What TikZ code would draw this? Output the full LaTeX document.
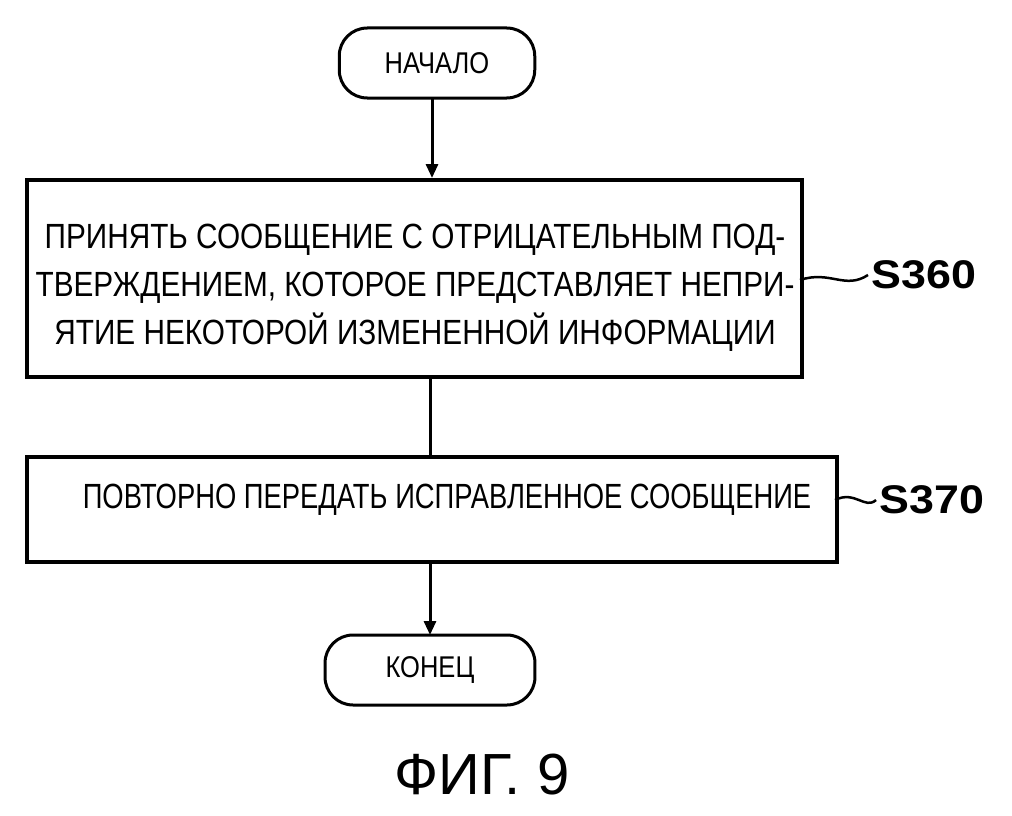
\documentclass[tikz,border=0pt]{standalone}
\usepackage{fontspec}
\setmainfont{Liberation Sans}
\usetikzlibrary{arrows.meta}
\tikzset{
 term/.style={draw,line width=3pt,rounded corners=28pt,minimum width=230pt,minimum height=70pt,font=\fontsize{30}{34}\selectfont},
 proc/.style={draw,line width=4pt,anchor=north west},
 arr/.style={line width=3pt,-{Triangle[length=14pt,width=12pt]}},
 txt/.style={font=\fontsize{35}{48}\selectfont,align=center,xscale=0.85},
 lab/.style={font=\bfseries\fontsize{40}{44}\selectfont,xscale=1.12}
}
\begin{document}
\begin{tikzpicture}[x=1pt,y=-1pt]
\useasboundingbox (0,0) rectangle (1012,816);
\node[term,xscale=0.85] (start) at (437,63) {НАЧАЛО};
\node[proc,minimum width=775pt,minimum height=197pt] (b1) at (25,178) {};
\node[proc,minimum width=810pt,minimum height=105pt] (b2) at (25,455) {};
\node[term,minimum width=247pt,xscale=0.85] (end) at (430,670) {КОНЕЦ};
\node[txt] (t1) at (415,288) {ПРИНЯТЬ СООБЩЕНИЕ С ОТРИЦАТЕЛЬНЫМ ПОД-\\ТВЕРЖДЕНИЕМ, КОТОРОЕ ПРЕДСТАВЛЯЕТ НЕПРИ-\\ЯТИЕ НЕКОТОРОЙ ИЗМЕНЕННОЙ ИНФОРМАЦИИ};
\node[txt,xscale=0.92] (t2) at (447,500) {ПОВТОРНО ПЕРЕДАТЬ ИСПРАВЛЕННОЕ СООБЩЕНИЕ};
\draw[arr] (432,98) -- (432,178);
\draw[line width=3pt] (430,375) -- (430,455);
\draw[arr] (430,560) -- (430,635);
\node[lab,anchor=west] (s1) at (868,275) {S360};
\node[lab,anchor=west] (s2) at (876,500) {S370};
\draw[line width=2.5pt] (800,280) .. controls (830,270) and (845,290) .. (s1.west);
\draw[line width=2.5pt] (835,500) .. controls (855,490) and (865,510) .. (s2.west);
\node[font=\fontsize{58}{60}\selectfont] (fig) at (482,775) {ФИГ. 9};
\end{tikzpicture}
\end{document}
